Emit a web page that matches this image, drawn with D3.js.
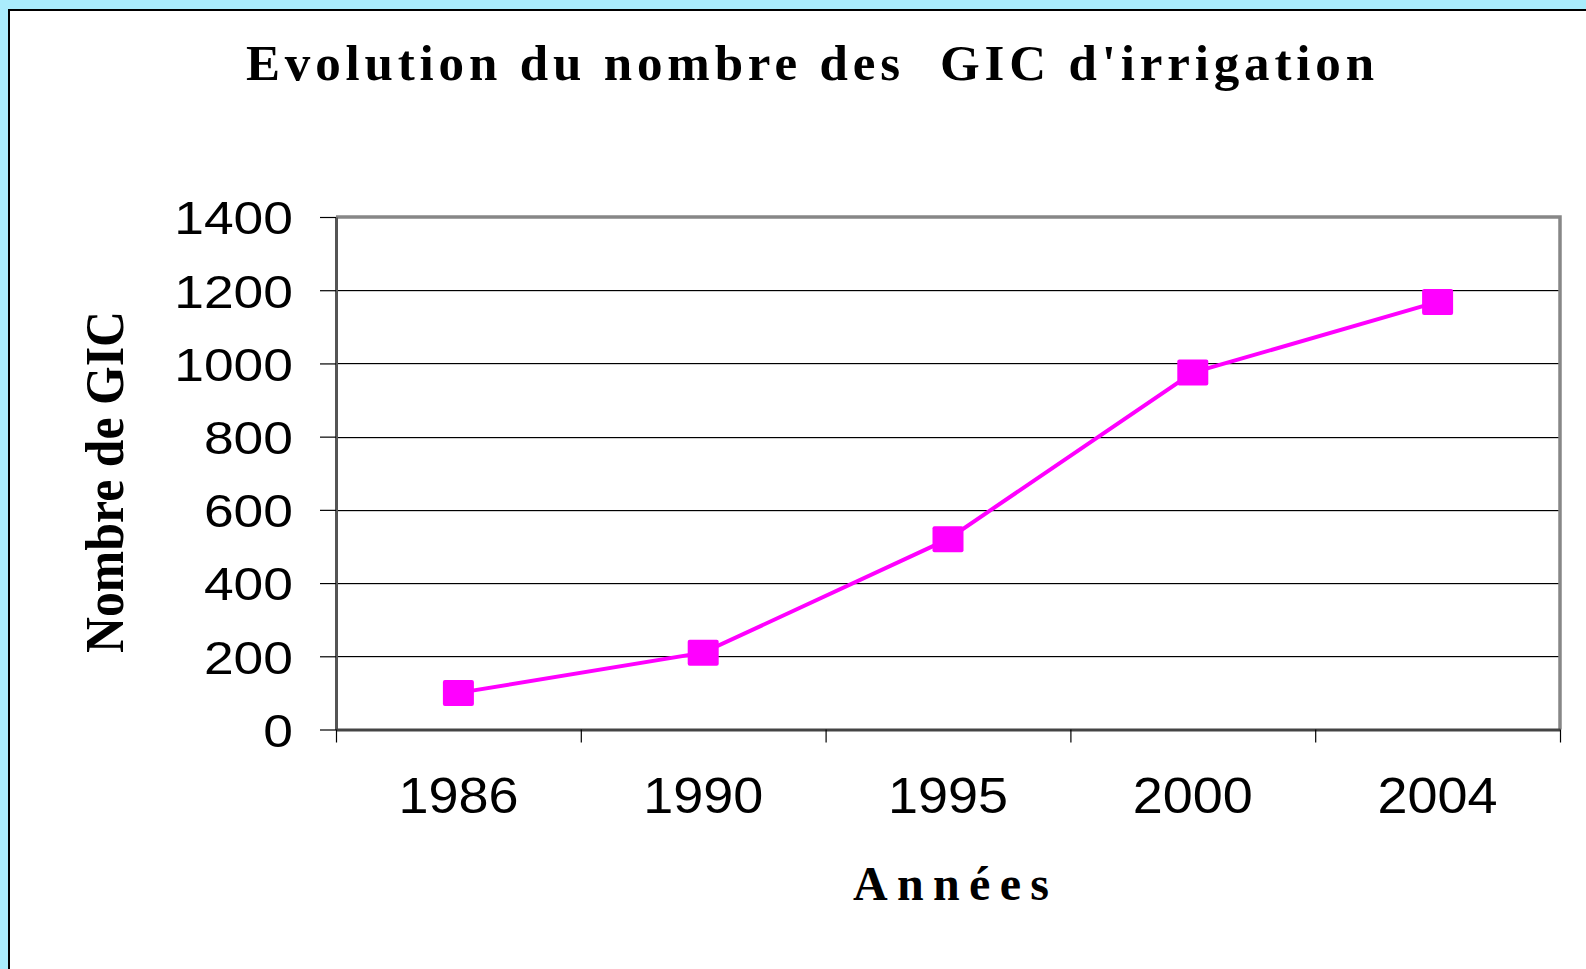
<!DOCTYPE html>
<html>
<head>
<meta charset="utf-8">
<title>Evolution du nombre des GIC d'irrigation</title>
<style>
body {
  margin: 0;
  background: #aaecfc;
}

svg {
  display: block;
}

.serif {
  font-family: "Liberation Serif", "Times New Roman", serif;
  font-weight: bold;
  white-space: pre;
}

.axis text {
  font-family: "Liberation Sans", Arial, sans-serif;
  fill: #000;
}
</style>
<script src="https://d3js.org/d3.v7.min.js"></script>
</head>
<body>
<div id="result"></div>
<script>
var years = ['1986', '1990', '1995', '2000', '2004']
var gic = [100, 210, 520, 975, 1168]
var yTicks = [0, 200, 400, 600, 800, 1000, 1200, 1400]

var W = 1586, H = 969
var pLeft = 336, pRight = 1560, pTop = 217, pBottom = 729.5

var svg = d3.select('#result').append('svg').attr('width', W).attr('height', H)

// white panel with black frame, runs off the right and bottom edges
svg.append('rect').attr('x', 9).attr('y', 10).attr('width', W).attr('height', H)
  .attr('fill', '#fff').attr('stroke', '#000').attr('stroke-width', 2)

var x = d3.scaleBand().domain(years).range([pLeft, pRight]).padding(0)
var y = d3.scaleLinear().domain([0, 1400]).range([pBottom, pTop])

// gridlines (black with a faint grey line under each)
var grid = svg.append('g')
grid.selectAll('line.sh').data(yTicks.slice(1, -1)).enter().append('line')
  .attr('x1', pLeft).attr('x2', pRight)
  .attr('y1', d => Math.round(y(d)) + 1.5).attr('y2', d => Math.round(y(d)) + 1.5)
  .attr('stroke', '#d0d0d0').attr('stroke-width', 1)
grid.selectAll('line.gl').data(yTicks.slice(1, -1)).enter().append('line')
  .attr('x1', pLeft).attr('x2', pRight)
  .attr('y1', d => Math.round(y(d)) + 0.5).attr('y2', d => Math.round(y(d)) + 0.5)
  .attr('stroke', '#000').attr('stroke-width', 1)

// top and right border of plot area
svg.append('path')
  .attr('d', `M${pLeft},${pTop}H${pRight}V${pBottom}`)
  .attr('fill', 'none').attr('stroke', '#878787').attr('stroke-width', 3.5)

// y axis
var yAxis = svg.append('g').attr('class', 'axis y')
  .attr('transform', `translate(${pLeft},0)`)
  .call(d3.axisLeft(y).tickValues(yTicks).tickFormat(d3.format('d'))
    .tickSize(16).tickSizeOuter(0).tickPadding(27))
yAxis.select('.domain').attr('stroke', '#555').attr('stroke-width', 3)
yAxis.selectAll('.tick line').attr('stroke', '#000').attr('stroke-width', 1.2)
yAxis.selectAll('.tick text')
  .attr('font-size', 47).attr('dy', '0.36em')
  .attr('textLength', d => String(d).length * 29.7)
  .attr('lengthAdjust', 'spacingAndGlyphs')

// x axis: ticks sit on the band edges, labels in band centres
var edges = d3.scaleLinear().domain([0, years.length]).range([pLeft, pRight])
var xTicks = svg.append('g').attr('class', 'axis')
  .attr('transform', `translate(0,${pBottom})`)
  .call(d3.axisBottom(edges).tickValues(d3.range(years.length + 1)).tickSize(13).tickSizeOuter(0).tickFormat(''))
xTicks.select('.domain').attr('stroke', '#444').attr('stroke-width', 3)
xTicks.selectAll('.tick line').attr('stroke', '#000').attr('stroke-width', 1.2)

var xAxis = svg.append('g').attr('class', 'axis x')
  .attr('transform', `translate(0,${pBottom})`)
  .call(d3.axisBottom(x).tickSize(0).tickPadding(48))
xAxis.select('.domain').remove()
xAxis.selectAll('.tick text')
  .attr('font-size', 50).attr('dy', '0.71em')
  .attr('textLength', 120).attr('lengthAdjust', 'spacingAndGlyphs')

// series
var pts = years.map((d, i) => ({year: d, value: gic[i]}))
var line = d3.line().x(d => x(d.year) + x.bandwidth() / 2).y(d => y(d.value))

svg.append('path').datum(pts).attr('d', line)
  .attr('fill', 'none').attr('stroke', '#ff00ff').attr('stroke-width', 4)

svg.selectAll('rect.mk').data(pts).enter().append('rect')
  .attr('class', 'mk')
  .attr('x', d => x(d.year) + x.bandwidth() / 2 - 15.5)
  .attr('y', d => y(d.value) - 13)
  .attr('width', 31).attr('height', 26).attr('rx', 2)
  .attr('fill', '#ff00ff')

// titles
svg.append('text').attr('class', 'serif')
  .attr('x', 810).attr('y', 80)
  .attr('text-anchor', 'middle').attr('font-size', 51)
  .attr('textLength', 1128).attr('lengthAdjust', 'spacing')
  .text("Evolution du nombre des  GIC d'irrigation")

svg.append('text').attr('class', 'serif')
  .attr('transform', 'translate(123,482) rotate(-90)')
  .attr('text-anchor', 'middle').attr('font-size', 54)
  .attr('textLength', 342).attr('lengthAdjust', 'spacingAndGlyphs')
  .text('Nombre de GIC')

svg.append('text').attr('class', 'serif')
  .attr('x', 951).attr('y', 900)
  .attr('text-anchor', 'middle').attr('font-size', 48)
  .attr('textLength', 196).attr('lengthAdjust', 'spacing')
  .text('Années')
</script>
</body>
</html>
